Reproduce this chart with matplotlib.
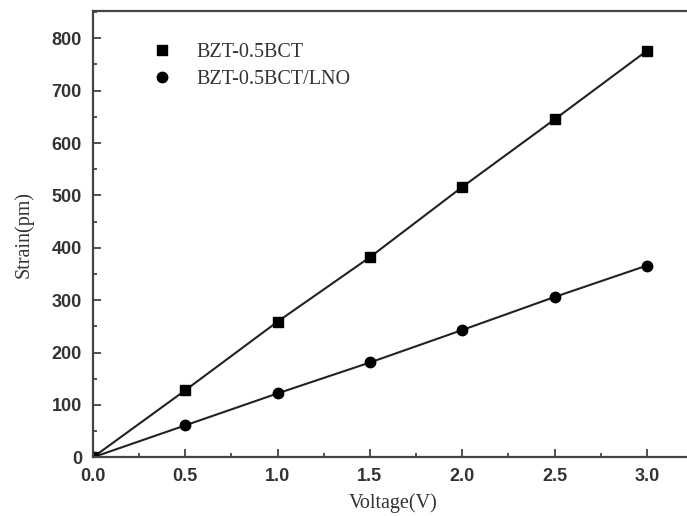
import matplotlib
matplotlib.use("Agg")
import matplotlib.pyplot as plt
from matplotlib.lines import Line2D
from matplotlib.ticker import MultipleLocator

voltage = [0.0, 0.5, 1.0, 1.5, 2.0, 2.5, 3.0]
strain_bzt = [0, 128, 259, 382, 516, 645, 776]
strain_lno = [0, 61, 122, 181, 243, 306, 366]
labels = ["BZT-0.5BCT", "BZT-0.5BCT/LNO"]

fig = plt.figure(figsize=(6.87, 5.16), dpi=100)
ax = fig.add_axes([93/687, 1-457.3/516, 600/687, (457.3-11)/516])

lc = "#222222"
ax.plot(voltage, strain_bzt, color=lc, lw=1.5, marker="s", ms=7, mfc="black", mec="black")
ax.plot(voltage, strain_lno, color=lc, lw=1.5, marker="o", ms=7.5, mfc="black", mec="black")

ax.set_xlim(0, 3.25)
ax.set_ylim(0, 852)
ax.xaxis.set_major_locator(MultipleLocator(0.5))
ax.xaxis.set_minor_locator(MultipleLocator(0.25))
ax.yaxis.set_major_locator(MultipleLocator(100))
ax.yaxis.set_minor_locator(MultipleLocator(50))

for s in ax.spines.values():
    s.set_linewidth(1.6)
    s.set_color("#444444")

ax.tick_params(which="both", direction="in", top=False, right=False, color="#333333", width=1.2)
ax.tick_params(which="major", length=5.5)
ax.tick_params(which="minor", length=3)
ax.tick_params(axis="x", which="major", pad=8)
ax.tick_params(axis="y", which="major", pad=8)
tick_font = dict(family="Liberation Sans", weight="bold", size=13)
ax.set_xticks([0, 0.5, 1.0, 1.5, 2.0, 2.5, 3.0])
ax.set_xticklabels(["0.0", "0.5", "1.0", "1.5", "2.0", "2.5", "3.0"], fontdict=tick_font, color="#333333")
yt = list(range(0, 900, 100))
ax.set_yticks(yt)
ax.set_yticklabels([str(v) for v in yt], fontdict=tick_font, color="#333333")

lab_font = dict(family="Liberation Serif", size=14.5, color="#333333")
ax.set_xlabel("Voltage(V)", fontdict=lab_font, labelpad=6)
ax.set_ylabel("Strain(pm)", fontdict=lab_font, labelpad=13)

handles = [
    Line2D([], [], ls="none", marker="s", ms=7, color="black"),
    Line2D([], [], ls="none", marker="o", ms=7.5, color="black"),
]
ax.legend(handles, labels, loc="upper left", bbox_to_anchor=(0.0813, 0.952),
          frameon=False, borderpad=0, handlelength=1.0, handletextpad=1.2,
          labelspacing=0.4, prop=dict(family="Liberation Serif", size=14.5),
          labelcolor="#333333")

fig.savefig("out.png", dpi=100)
